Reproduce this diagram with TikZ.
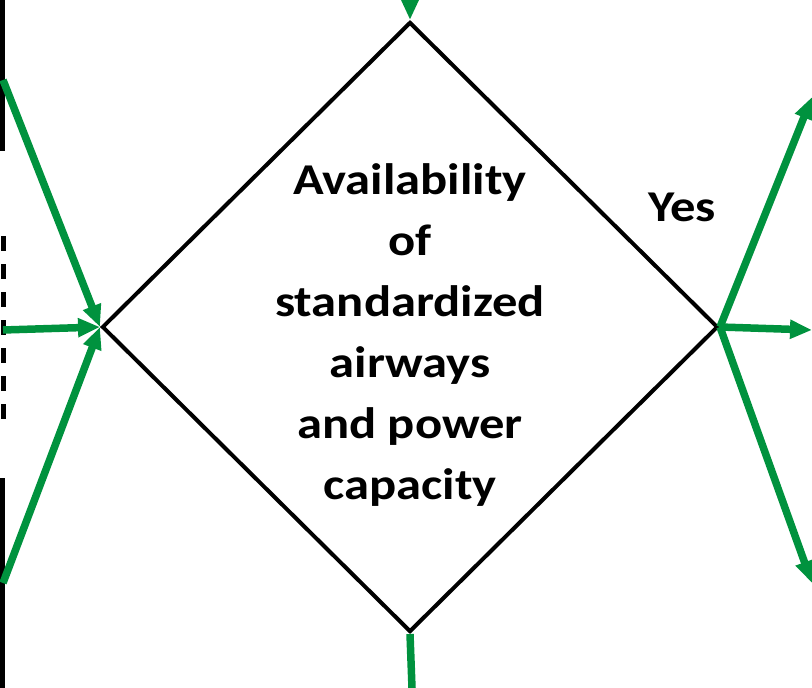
\documentclass[tikz,border=0pt]{standalone}
\usepackage{fontspec}
\setmainfont{Carlito}
\usepackage{xcolor}
\usepackage{tikz}
\usetikzlibrary{shapes.geometric, arrows.meta, positioning}
\definecolor{flowgreen}{RGB}{0,146,62}

\begin{document}
\begin{tikzpicture}[
    x=1pt, y=-1pt,
    decision/.style={draw, diamond, line width=4pt, minimum width=616pt, minimum height=610pt, inner sep=0pt},
    question/.style={align=center, inner sep=0pt, xscale=1.15, transform shape, font=\bfseries\fontsize{44}{61}\selectfont},
    flow/.style={draw=flowgreen, line width=7.5pt, -{Triangle[length=22pt,width=18pt]}},
    edgebar/.style={line width=5pt}
]
\useasboundingbox (0,0) rectangle (812,688);

\node[decision] (avail) at (410,327) {};
\node[question] (availtext) at (410,335) {Availability\\of\\standardized\\airways\\and power\\capacity};
\node[question] (yes) at (682,207) {Yes};

% cut-off boxes on the left
\draw[edgebar] (2,0) -- (2,151);
\draw[edgebar, dash pattern=on 15pt off 13pt] (3,236) -- (3,428);
\draw[edgebar] (2,478) -- (2,688);

% incoming and outgoing flow
\coordinate (intop) at (410,0);
\coordinate (inone) at (3,80);
\coordinate (intwo) at (3,330);
\coordinate (inthree) at (3,583);
\coordinate (outone) at (812,97);
\coordinate (outtwo) at (812,330);
\coordinate (outthree) at (812,583);
\coordinate (outbottom) at (412,688);

\draw[flow] (intop) -- (avail.north);
\draw[flow] (inone) -- (avail.west);
\draw[flow] (intwo) -- (avail.west);
\draw[flow] (inthree) -- (avail.west);
\draw[flow] (avail.east) -- (outone);
\draw[flow] (avail.east) -- (outtwo);
\draw[flow] (avail.east) -- (outthree);
\draw[flow, -] (avail.south) -- (outbottom);

\end{tikzpicture}
\end{document}
